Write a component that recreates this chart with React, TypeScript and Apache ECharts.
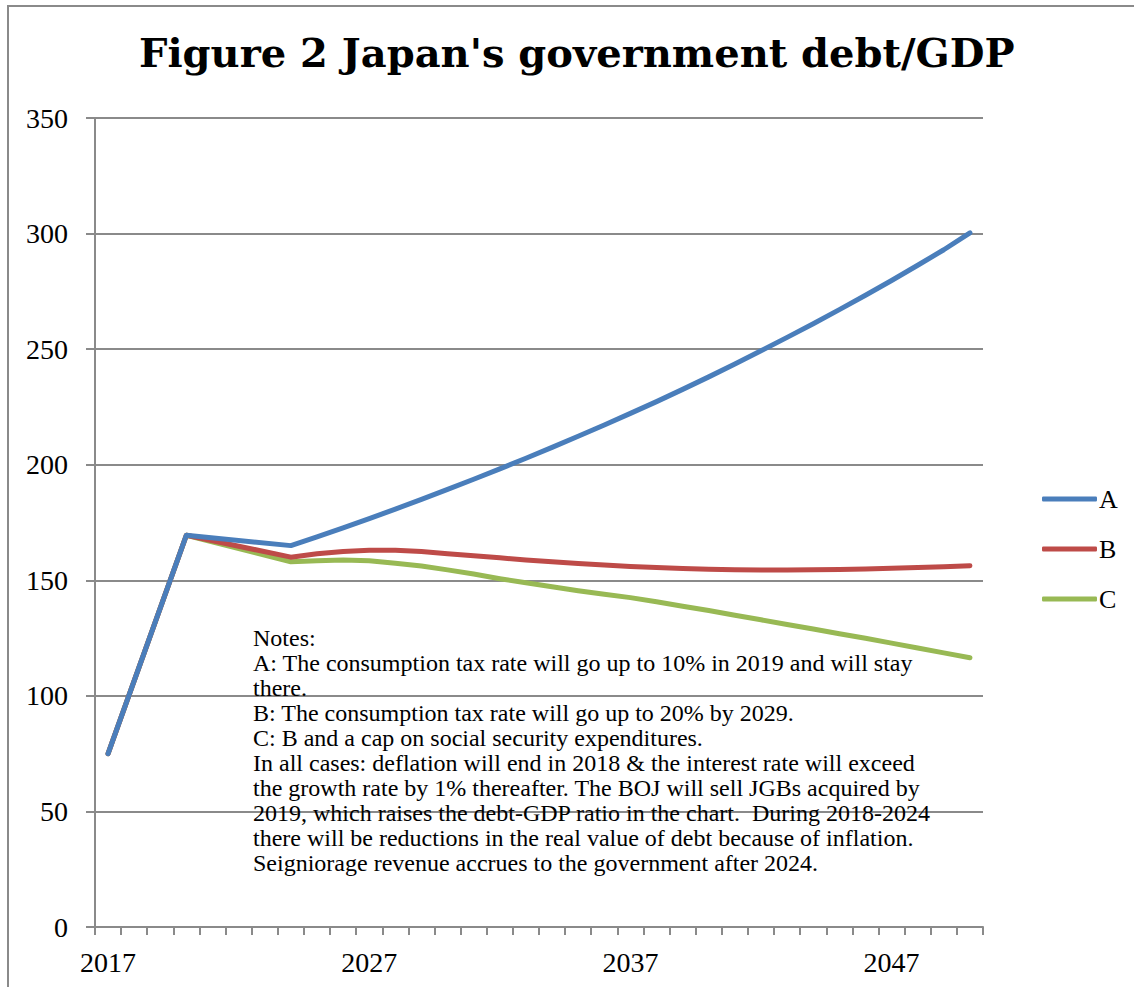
import React, { useEffect, useRef } from "react";
import * as echarts from "echarts";

const years: string[] = [
  "2017", "2018", "2019", "2020", "2021", "2022", "2023", "2024", "2025", "2026",
  "2027", "2028", "2029", "2030", "2031", "2032", "2033", "2034", "2035", "2036",
  "2037", "2038", "2039", "2040", "2041", "2042", "2043", "2044", "2045", "2046",
  "2047", "2048", "2049", "2050",
];

const seriesA: (number | null)[] = [
  75, null, null, 169.5, null, null, null, 165, 168.8, 172.7,
  176.7, 180.8, 185.0, 189.3, 193.7, 198.2, 202.8, 207.5, 212.3, 217.2,
  222.2, 227.3, 232.6, 238.0, 243.6, 249.3, 255.1, 261.0, 267.1, 273.3,
  279.7, 286.3, 293.0, 300.3,
];

const seriesB: (number | null)[] = [
  75, null, null, 169.5, null, null, null, 160, 161.5, 162.5,
  163, 163, 162.5, 161.5, 160.6, 159.7, 158.8, 158, 157.3, 156.6,
  156, 155.5, 155.1, 154.8, 154.6, 154.5, 154.5, 154.6, 154.7, 154.9,
  155.2, 155.5, 155.9, 156.3,
];

const seriesC: (number | null)[] = [
  75, null, null, 169.5, null, null, null, 158, 158.5, 158.8,
  158.5, 157.4, 156.2, 154.5, 152.7, 150.7, 148.9, 147.2, 145.5, 144.0,
  142.5, 140.7, 138.8, 136.9, 134.9, 132.9, 130.9, 128.9, 126.9, 124.9,
  122.8, 120.7, 118.6, 116.5,
];

const seriesNames = ["A", "B", "C"];
const seriesColors = ["#4a7ebb", "#be4b48", "#98b954"];
const yTicks = [0, 50, 100, 150, 200, 250, 300, 350];

const titleText = "Figure 2 Japan's government debt/GDP";
const notesLines = [
  "Notes:",
  "A: The consumption tax rate will go up to 10% in 2019 and will stay",
  "there.",
  "B: The consumption tax rate will go up to 20% by 2029.",
  "C: B and a cap on social security expenditures.",
  "In all cases: deflation will end in 2018 & the interest rate will exceed",
  "the growth rate by 1% thereafter. The BOJ will sell JGBs acquired by",
  "2019, which raises the debt-GDP ratio in the chart.  During 2018-2024",
  "there will be reductions in the real value of debt because of inflation.",
  "Seigniorage revenue accrues to the government after 2024.",
];

const serif = "'Liberation Serif', 'DejaVu Serif', serif";
const titleFont = "'DejaVu Serif', 'Liberation Serif', serif";

export default function App() {
  const ref = useRef<HTMLDivElement>(null);

  useEffect(() => {
    if (!ref.current) return;
    const chart = echarts.init(ref.current, null, { renderer: "svg" });
    const data = [seriesA, seriesB, seriesC];
    const option: any = {
      animation: false,
      backgroundColor: "#ffffff",
      title: {
        text: titleText,
        left: 134,
        top: 27,
        textStyle: {
          fontFamily: titleFont,
          fontWeight: "bold",
          fontSize: 40,
          color: "#000",
        },
      },
      grid: { left: 95, right: 151, top: 118, bottom: 60, containLabel: false },
      legend: {
        orient: "vertical",
        left: 1037,
        top: 481,
        itemWidth: 55,
        itemHeight: 5,
        itemGap: 24,
        icon: "roundRect",
        data: seriesNames,
        textStyle: {
          fontFamily: serif,
          fontSize: 26,
          lineHeight: 24,
          color: "#000",
          padding: [0, 0, 0, -3],
        },
      },
      xAxis: {
        type: "category",
        data: years,
        boundaryGap: true,
        axisLine: { show: true, lineStyle: { color: "#8a8a8a", width: 2 } },
        axisTick: {
          show: true,
          interval: 0,
          length: 8,
          alignWithLabel: false,
          lineStyle: { color: "#8a8a8a", width: 2 },
        },
        axisLabel: {
          interval: 9,
          margin: 21,
          fontFamily: serif,
          fontSize: 28,
          color: "#000",
        },
        splitLine: { show: false },
      },
      yAxis: {
        type: "value",
        min: 0,
        max: 350,
        interval: 50,
        axisLine: { show: true, lineStyle: { color: "#8a8a8a", width: 2 } },
        axisTick: { show: true, length: 9, lineStyle: { color: "#8a8a8a", width: 2 } },
        axisLabel: {
          margin: 27,
          fontFamily: serif,
          fontSize: 28,
          color: "#000",
          formatter: (v: number) => (yTicks.includes(v) ? String(v) : ""),
        },
        splitLine: { show: true, lineStyle: { color: "#8a8a8a", width: 2 } },
      },
      series: seriesNames.map((name, i) => ({
        name,
        type: "line",
        data: data[i],
        connectNulls: true,
        showSymbol: false,
        symbol: "none",
        smooth: false,
        color: seriesColors[i],
        lineStyle: { color: seriesColors[i], width: 5, cap: "round", join: "round" },
        z: 3 - i + 2,
      })),
      graphic: [
        {
          type: "rect",
          shape: { x: 8, y: 6, width: 1200, height: 1100 },
          style: { fill: "none", stroke: "#8a8a8a", lineWidth: 2 },
          silent: true,
          z: 0,
        },
        {
          type: "text",
          left: 253,
          top: 625,
          z: 100,
          style: {
            text: notesLines.join("\n"),
            fontFamily: serif,
            fontSize: 24,
            lineHeight: 25,
            fill: "#000",
          },
        },
      ],
    };
    chart.setOption(option);
    return () => chart.dispose();
  }, []);

  return (
    <div
      ref={ref}
      style={{ position: "fixed", left: 0, top: 0, width: 1134, height: 987 }}
    />
  );
}
